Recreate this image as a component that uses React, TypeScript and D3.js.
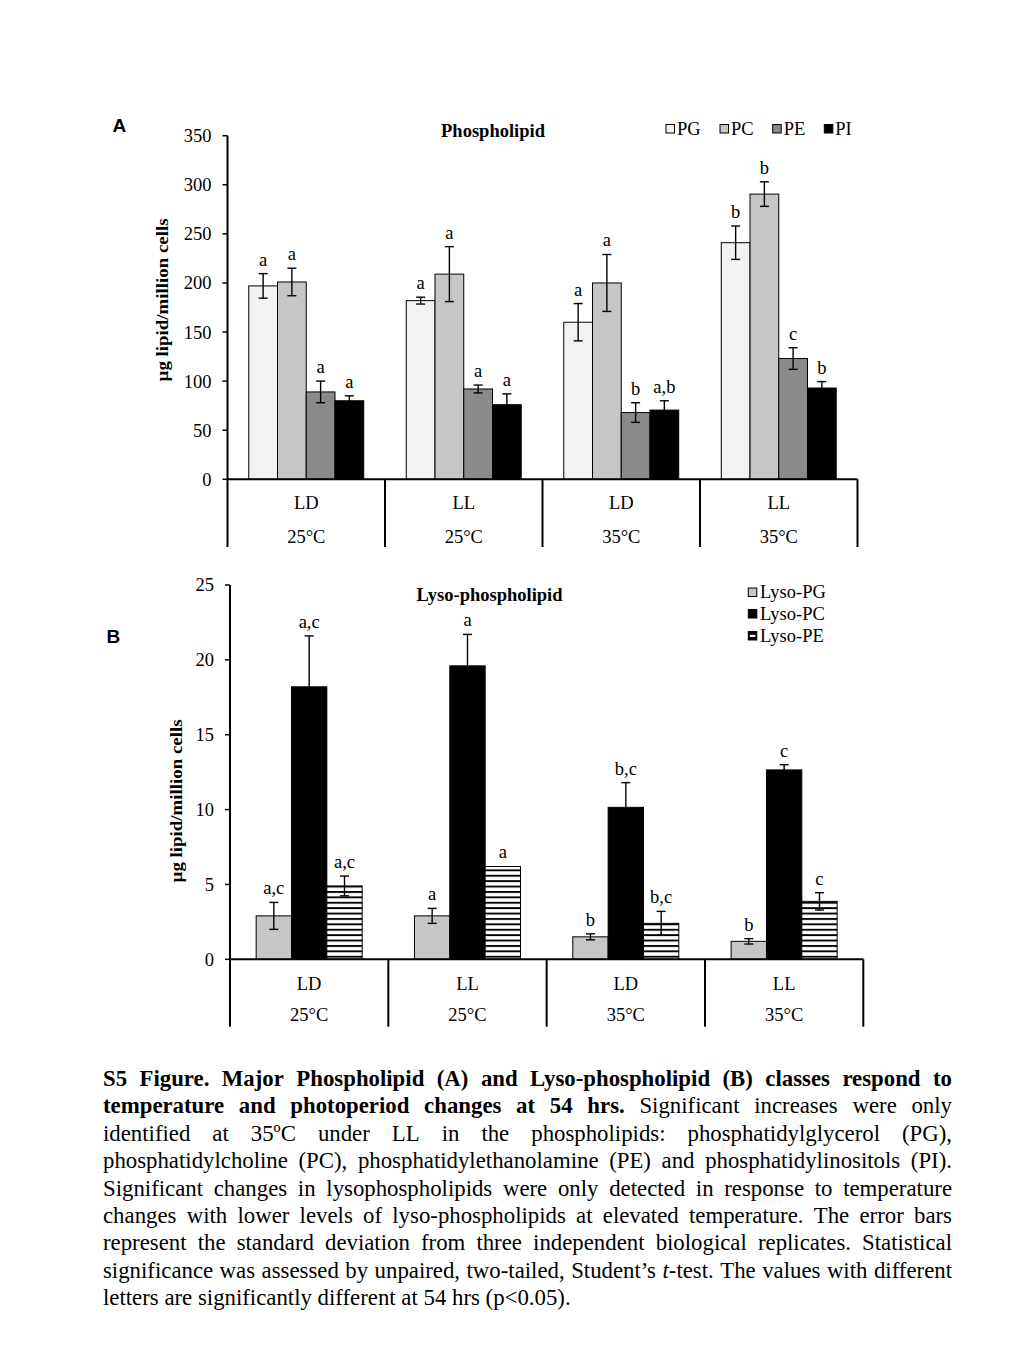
import React, { useMemo } from 'react';
import * as d3 from 'd3';

// ---------- data ----------
const photoperiods = ['LD', 'LL', 'LD', 'LL'];
const temperatures = ['25°C', '25°C', '35°C', '35°C'];

// Panel A: phospholipids (µg lipid / million cells)
const seriesA = ['PG', 'PC', 'PE', 'PI'];
const pgMean = [197, 182, 160, 241];
const pgSD = [12.5, 3.5, 19, 17];
const pgSig = ['a', 'a', 'a', 'b'];
const pcMean = [201, 209, 200, 290.5];
const pcSD = [14, 28, 29, 12.5];
const pcSig = ['a', 'a', 'a', 'b'];
const peMean = [89, 92, 68, 123];
const peSD = [11, 4, 10, 11];
const peSig = ['a', 'a', 'b', 'c'];
const piMean = [80, 76, 70.5, 93];
const piSD = [5, 11, 9.5, 6.5];
const piSig = ['a', 'a', 'a,b', 'b'];
const ticksA = [0, 50, 100, 150, 200, 250, 300, 350];

// Panel B: lyso-phospholipids
const seriesB = ['Lyso-PG', 'Lyso-PC', 'Lyso-PE'];
const lpgMean = [2.9, 2.9, 1.5, 1.2];
const lpgSD = [0.9, 0.5, 0.2, 0.18];
const lpgSig = ['a,c', 'a', 'b', 'b'];
const lpcMean = [18.2, 19.6, 10.15, 12.65];
const lpcSD = [3.4, 2.1, 1.65, 0.35];
const lpcSig = ['a,c', 'a', 'b,c', 'c'];
const lpeMean = [4.9, 6.2, 2.4, 3.87];
const lpeSD = [0.66, 0, 0.8, 0.58];
const lpeSig = ['a,c', 'a', 'b,c', 'c'];
const ticksB = [0, 5, 10, 15, 20, 25];

const captionLines = [
  '§S5 Figure. Major Phospholipid (A) and Lyso-phospholipid (B) classes respond to§',
  '§temperature and photoperiod changes at 54 hrs.§ Significant increases were only',
  'identified at 35ºC under LL in the phospholipids: phosphatidylglycerol (PG),',
  'phosphatidylcholine (PC), phosphatidylethanolamine (PE) and phosphatidylinositols (PI).',
  'Significant changes in lysophospholipids were only detected in response to temperature',
  'changes with lower levels of lyso-phospholipids at elevated temperature. The error bars',
  'represent the standard deviation from three independent biological replicates. Statistical',
  'significance was assessed by unpaired, two-tailed, Student’s ¦t¦-test. The values with different',
  'letters are significantly different at 54 hrs (p<0.05).',
];

// ---------- styling ----------
const SERIF = '"Liberation Serif", "Times New Roman", serif';
const SANS = '"Liberation Sans", Arial, sans-serif';
const fillsA = ['#f2f2f2', '#c6c6c6', '#8a8a8a', '#000000'];
const fillsB = ['#c6c6c6', '#000000', 'url(#stripes)'];

type Seg = { t: string; b: boolean; i: boolean };
function parseLine(s: string): Seg[][] {
  const words: Seg[][] = [];
  let cur: Seg[] = [];
  let b = false;
  let it = false;
  for (const ch of s) {
    if (ch === '§') { b = !b; continue; }
    if (ch === '¦') { it = !it; continue; }
    if (ch === ' ') { if (cur.length) { words.push(cur); cur = []; } continue; }
    const last = cur[cur.length - 1];
    if (last && last.b === b && last.i === it) last.t += ch;
    else cur.push({ t: ch, b, i: it });
  }
  if (cur.length) words.push(cur);
  return words;
}

function Caption({ x, y0, lineH, width, size }: { x: number; y0: number; lineH: number; width: number; size: number }) {
  const layout = useMemo(() => {
    const canvas = document.createElement('canvas');
    const ctx = canvas.getContext('2d')!;
    const fnt = (b: boolean, i: boolean) => `${i ? 'italic ' : ''}${b ? 'bold ' : ''}${size}px "Liberation Serif"`;
    const meas = (t: string, b: boolean, i: boolean) => { ctx.font = fnt(b, i); return ctx.measureText(t).width; };
    const spaceW = meas(' ', false, false);
    return captionLines.map((line, li) => {
      const words = parseLine(line);
      const widths = words.map((w) => w.reduce((s, sg) => s + meas(sg.t, sg.b, sg.i), 0));
      const sum = widths.reduce((a, b) => a + b, 0);
      const n = words.length;
      const justify = li < captionLines.length - 1;
      let gap = spaceW;
      let k = 1;
      if (justify) {
        gap = (width - sum) / (n - 1);
        if (gap < spaceW * 0.8) {
          gap = spaceW * 0.8;
          k = (width - gap * (n - 1)) / sum;
        }
      }
      let cx = x;
      return words.map((w, wi) => {
        const pos = { segs: w, x: cx, w: widths[wi] * k, k };
        cx += widths[wi] * k + gap;
        return pos;
      });
    });
  }, [x, width, size]);
  return (
    <g fontFamily={SERIF} fontSize={size} fill="#000">
      {layout.map((line, li) =>
        line.map((wd, wi) => (
          <text
            key={`${li}-${wi}`}
            x={wd.x}
            y={y0 + li * lineH}
            {...(wd.k < 1 ? { textLength: wd.w, lengthAdjust: 'spacingAndGlyphs' } : {})}
          >
            {wd.segs.map((sg, si) => (
              <tspan key={si} fontWeight={sg.b ? 'bold' : 'normal'} fontStyle={sg.i ? 'italic' : 'normal'}>
                {sg.t}
              </tspan>
            ))}
          </text>
        ))
      )}
    </g>
  );
}

type PanelProps = {
  x0: number; x1: number; yZero: number; yTop: number; yBottom: number;
  max: number; ticks: number[]; series: string[]; means: number[][]; sds: number[][]; sigs: string[][];
  fills: string[]; title: string; titleX: number; titleY: number; yLabelX: number; yLabelY: number;
  catY1: number; catY2: number;
};

function Panel(p: PanelProps) {
  const groups = d3.range(photoperiods.length);
  const xg = d3.scaleBand<number>().domain(groups).range([p.x0, p.x1]).paddingInner(0).paddingOuter(0);
  const xs = d3.scaleBand<number>().domain(d3.range(p.series.length)).range([0, xg.bandwidth()]).paddingInner(0).paddingOuter(0.74);
  const y = d3.scaleLinear().domain([0, p.max]).range([p.yZero, p.yTop]);
  return (
    <g>
      {/* bars */}
      {p.series.map((s, si) =>
        groups.map((g) => {
          const v = p.means[si][g];
          const bx = (xg(g) ?? 0) + (xs(si) ?? 0);
          return (
            <rect key={`${s}-${g}`} x={bx} y={y(v)} width={xs.bandwidth()} height={p.yZero - y(v)}
              fill={p.fills[si]} stroke="#000" strokeWidth={1} />
          );
        })
      )}
      {/* error bars and letters */}
      {p.series.map((s, si) =>
        groups.map((g) => {
          const v = p.means[si][g];
          const e = p.sds[si][g];
          const cx = (xg(g) ?? 0) + (xs(si) ?? 0) + xs.bandwidth() / 2;
          const yt = y(v + e);
          const yb = y(v - e);
          return (
            <g key={`e-${s}-${g}`}>
              {e > 0 && (
                <g stroke="#000" strokeWidth={1.4}>
                  <line x1={cx} x2={cx} y1={yt} y2={yb} />
                  <line x1={cx - 4.5} x2={cx + 4.5} y1={yt} y2={yt} />
                  <line x1={cx - 4.5} x2={cx + 4.5} y1={yb} y2={yb} />
                </g>
              )}
              <text x={cx} y={yt - 8} textAnchor="middle" fontFamily={SERIF} fontSize={18.5}>{p.sigs[si][g]}</text>
            </g>
          );
        })
      )}
      {/* y axis */}
      <line x1={p.x0} x2={p.x0} y1={p.yTop} y2={p.yBottom} stroke="#000" strokeWidth={2} />
      {p.ticks.map((t) => (
        <g key={t}>
          <line x1={p.x0 - 5} x2={p.x0} y1={y(t)} y2={y(t)} stroke="#000" strokeWidth={1.5} />
          <text x={p.x0 - 16} y={y(t)} dy="0.35em" textAnchor="end" fontFamily={SERIF} fontSize={18.5}>{t}</text>
        </g>
      ))}
      {/* x axis with category dividers */}
      <line x1={p.x0} x2={p.x1} y1={p.yZero} y2={p.yZero} stroke="#000" strokeWidth={2} />
      {groups.map((g) => (
        <line key={`d-${g}`} x1={(xg(g) ?? 0) + xg.bandwidth()} x2={(xg(g) ?? 0) + xg.bandwidth()} y1={p.yZero} y2={p.yBottom} stroke="#000" strokeWidth={2} />
      ))}
      {groups.map((g) => {
        const cx = (xg(g) ?? 0) + xg.bandwidth() / 2;
        return (
          <g key={`c-${g}`} fontFamily={SERIF} fontSize={18.5} textAnchor="middle">
            <text x={cx} y={p.catY1}>{photoperiods[g]}</text>
            <text x={cx} y={p.catY2}>{temperatures[g]}</text>
          </g>
        );
      })}
      <text x={p.titleX} y={p.titleY} textAnchor="middle" fontFamily={SERIF} fontWeight="bold" fontSize={18.5}>{p.title}</text>
      <text transform={`translate(${p.yLabelX},${p.yLabelY}) rotate(-90)`} textAnchor="middle" fontFamily={SERIF}
        fontWeight="bold" fontSize={17} textLength={163} lengthAdjust="spacingAndGlyphs">µg lipid/million cells</text>
    </g>
  );
}

export default function App() {
  const legendAX = [666, 720, 772.7, 824.3];
  const legendBY = [588, 609.5, 631.5];
  return (
    <svg width={1024} height={1365} style={{ position: 'absolute', left: 0, top: 0, background: '#fff' }}>
      <defs>
        <pattern id="stripes" patternUnits="userSpaceOnUse" width={10} height={5.4}>
          <rect x={0} y={0} width={10} height={5.4} fill="#fff" />
          <rect x={0} y={0} width={10} height={1.9} fill="#000" />
        </pattern>
      </defs>
      <rect x={0} y={0} width={1024} height={1365} fill="#fff" />

      {/* Panel A */}
      <text x={112.5} y={131.5} fontFamily={SANS} fontWeight="bold" fontSize={19}>A</text>
      <Panel x0={227.5} x1={857.5} yZero={479.3} yTop={135.7} yBottom={547} max={350} ticks={ticksA}
        series={seriesA} means={[pgMean, pcMean, peMean, piMean]} sds={[pgSD, pcSD, peSD, piSD]}
        sigs={[pgSig, pcSig, peSig, piSig]} fills={fillsA} title="Phospholipid" titleX={493} titleY={137}
        yLabelX={168} yLabelY={300} catY1={509} catY2={543} />
      {seriesA.map((s, i) => (
        <g key={s}>
          <rect x={legendAX[i]} y={124.5} width={8.5} height={8.5} fill={fillsA[i]} stroke="#000" strokeWidth={1} />
          <text x={legendAX[i] + 11} y={135} fontFamily={SERIF} fontSize={18.5}>{s}</text>
        </g>
      ))}

      {/* Panel B */}
      <text x={106.5} y={643} fontFamily={SANS} fontWeight="bold" fontSize={19}>B</text>
      <Panel x0={230} x1={863.3} yZero={959.3} yTop={585} yBottom={1026.7} max={25} ticks={ticksB}
        series={seriesB} means={[lpgMean, lpcMean, lpeMean]} sds={[lpgSD, lpcSD, lpeSD]}
        sigs={[lpgSig, lpcSig, lpeSig]} fills={fillsB} title="Lyso-phospholipid" titleX={489.5} titleY={601}
        yLabelX={181.5} yLabelY={801} catY1={989.5} catY2={1021} />
      {seriesB.map((s, i) => (
        <g key={s}>
          {i < 2 ? (
            <rect x={748.3} y={legendBY[i]} width={8.5} height={8.5} fill={fillsB[i]} stroke="#000" strokeWidth={1} />
          ) : (
            <g>
              <rect x={748.3} y={legendBY[i]} width={8.5} height={8.5} fill="#000" stroke="#000" strokeWidth={1} />
              <rect x={749.8} y={legendBY[i] + 3.3} width={5.5} height={2.2} fill="#fff" />
            </g>
          )}
          <text x={760} y={legendBY[i] + 10} fontFamily={SERIF} fontSize={18.5}>{s}</text>
        </g>
      ))}

      <Caption x={103} y0={1086} lineH={27.4} width={849} size={22.8} />
    </svg>
  );
}
